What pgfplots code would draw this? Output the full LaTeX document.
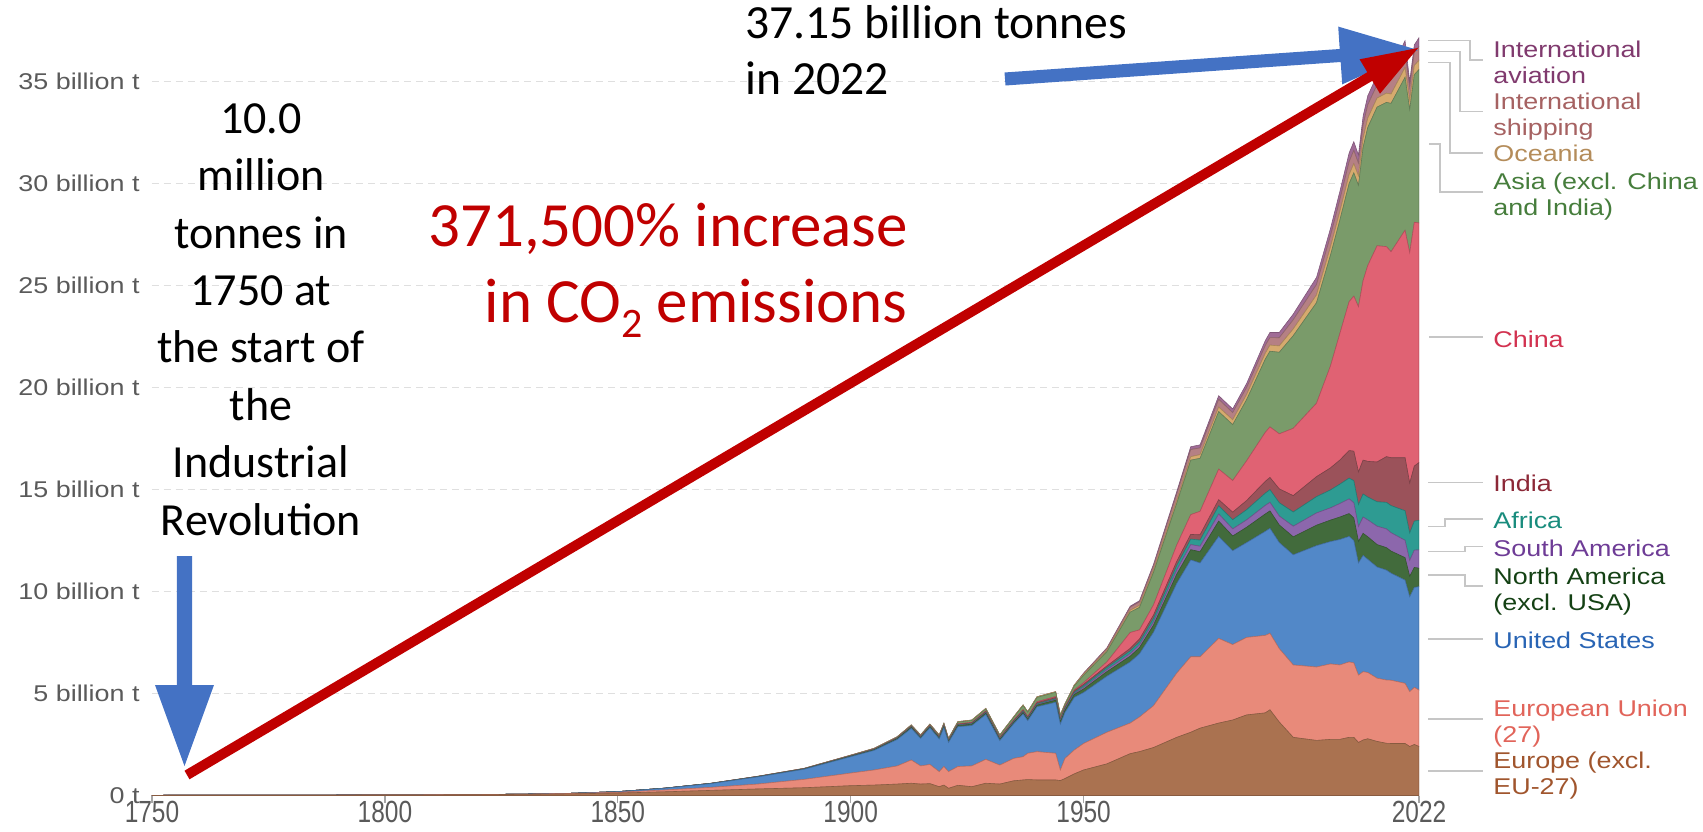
\documentclass[border=0pt]{standalone}
\usepackage{pgfplots}
\pgfplotsset{compat=1.18}
\usepackage{pgfplotstable}
\usepackage{fontspec}
\setmainfont{Carlito}
\newfontfamily\labfont[FakeStretch=1.18]{Liberation Sans}
\newfontfamily\xlabfont[FakeStretch=0.8]{Liberation Sans}

\definecolor{ceur}{RGB}{170,114,80}
\definecolor{ceu}{RGB}{232,138,122}
\definecolor{cus}{RGB}{82,136,200}
\definecolor{cnam}{RGB}{66,107,60}
\definecolor{csam}{RGB}{140,103,172}
\definecolor{cafr}{RGB}{46,155,146}
\definecolor{cind}{RGB}{155,82,90}
\definecolor{cchn}{RGB}{224,98,115}
\definecolor{casia}{RGB}{122,155,106}
\definecolor{coce}{RGB}{214,170,110}
\definecolor{cship}{RGB}{181,128,132}
\definecolor{cavi}{RGB}{160,108,150}
% label colours
\definecolor{teur}{RGB}{160,85,45}
\definecolor{teu}{RGB}{225,100,90}
\definecolor{tus}{RGB}{40,100,180}
\definecolor{tnam}{RGB}{20,65,20}
\definecolor{tsam}{RGB}{110,60,150}
\definecolor{tafr}{RGB}{25,140,125}
\definecolor{tind}{RGB}{140,40,55}
\definecolor{tchn}{RGB}{210,50,80}
\definecolor{tasia}{RGB}{70,125,60}
\definecolor{toce}{RGB}{180,140,90}
\definecolor{tship}{RGB}{166,98,98}
\definecolor{tavi}{RGB}{128,58,110}
\definecolor{ticktext}{RGB}{90,90,90}
\definecolor{ablue}{RGB}{68,114,196}
\definecolor{ared}{RGB}{192,0,0}

% annual CO2 emissions by region, billion tonnes
\pgfplotstableread{
year eur eu us nam sam afr ind chn asia oce ship avi
1750 0.0093 0.0001 0 0 0 0 0 0 0 0 0 0
1775 0.014 0.001 0 0 0 0 0 0 0 0 0 0
1800 0.025 0.002 0.0003 0 0 0 0 0 0 0 0 0
1820 0.04 0.005 0.001 0 0 0 0 0 0 0 0 0
1830 0.055 0.01 0.003 0 0 0 0 0 0 0 0 0
1840 0.08 0.02 0.007 0.001 0 0 0 0 0 0 0 0
1850 0.12 0.04 0.027 0.002 0 0 0 0 0.001 0 0 0
1860 0.18 0.09 0.082 0.004 0 0 0.001 0 0.002 0.001 0 0
1870 0.25 0.15 0.183 0.006 0.001 0.001 0.002 0.001 0.004 0.002 0 0
1880 0.32 0.24 0.348 0.01 0.002 0.002 0.005 0.002 0.007 0.004 0 0
1890 0.38 0.41 0.495 0.015 0.003 0.003 0.007 0.003 0.008 0.006 0 0
1900 0.48 0.62 0.80 0.025 0.005 0.006 0.012 0.005 0.015 0.009 0 0
1905 0.51 0.74 0.96 0.03 0.007 0.008 0.015 0.007 0.022 0.011 0 0
1910 0.56 0.89 1.30 0.04 0.01 0.01 0.02 0.01 0.03 0.013 0 0
1913 0.60 1.14 1.55 0.05 0.012 0.012 0.025 0.014 0.04 0.017 0 0
1915 0.56 0.89 1.35 0.045 0.012 0.013 0.025 0.015 0.043 0.017 0 0
1917 0.58 0.94 1.80 0.048 0.012 0.013 0.027 0.016 0.047 0.017 0 0
1919 0.43 0.74 1.60 0.05 0.012 0.014 0.03 0.017 0.058 0.019 0 0
1920 0.51 0.91 1.90 0.055 0.014 0.015 0.032 0.018 0.066 0.02 0 0
1921 0.35 0.82 1.43 0.045 0.014 0.014 0.03 0.018 0.06 0.019 0 0
1923 0.50 0.92 1.95 0.06 0.016 0.016 0.032 0.02 0.084 0.022 0 0
1926 0.43 1.02 1.98 0.065 0.018 0.018 0.035 0.022 0.09 0.022 0 0
1929 0.60 1.17 2.20 0.07 0.02 0.02 0.04 0.025 0.1 0.025 0 0
1932 0.56 0.93 1.20 0.055 0.018 0.02 0.04 0.027 0.1 0.02 0 0
1935 0.72 1.10 1.70 0.06 0.022 0.025 0.045 0.03 0.135 0.023 0 0
1937 0.76 1.14 2.10 0.07 0.025 0.03 0.05 0.035 0.2 0.03 0 0
1938 0.78 1.29 1.60 0.065 0.025 0.03 0.05 0.045 0.195 0.03 0 0
1940 0.76 1.39 2.20 0.08 0.028 0.035 0.055 0.05 0.21 0.032 0 0
1944 0.76 1.31 2.50 0.1 0.03 0.04 0.06 0.05 0.21 0.03 0 0
1945 0.73 0.52 2.25 0.1 0.03 0.04 0.06 0.04 0.15 0.03 0 0
1946 0.83 0.99 2.25 0.11 0.035 0.045 0.06 0.03 0.12 0.03 0 0
1948 1.06 1.17 2.58 0.14 0.05 0.06 0.065 0.05 0.2 0.04 0 0
1950 1.25 1.30 2.50 0.17 0.08 0.08 0.07 0.08 0.36 0.05 0.05 0.01
1955 1.55 1.55 2.75 0.22 0.10 0.10 0.08 0.20 0.50 0.06 0.10 0.03
1960 2.05 1.50 3.00 0.28 0.13 0.13 0.12 0.78 1.00 0.09 0.15 0.05
1962 2.15 1.70 3.10 0.30 0.14 0.14 0.14 0.45 1.10 0.10 0.17 0.06
1965 2.35 2.05 3.60 0.35 0.16 0.17 0.16 0.50 1.60 0.11 0.20 0.08
1970 2.85 3.15 4.40 0.45 0.21 0.22 0.20 0.80 2.05 0.15 0.30 0.12
1973 3.10 3.70 4.75 0.50 0.25 0.27 0.23 0.97 2.67 0.17 0.35 0.14
1975 3.30 3.50 4.60 0.55 0.27 0.30 0.26 1.15 2.60 0.18 0.33 0.15
1979 3.55 4.15 5.00 0.75 0.35 0.40 0.30 1.50 2.82 0.22 0.38 0.18
1982 3.70 3.70 4.60 0.72 0.35 0.45 0.37 1.55 2.74 0.24 0.35 0.18
1985 3.95 3.80 4.65 0.75 0.36 0.50 0.45 1.95 3.00 0.25 0.34 0.20
1989 4.05 3.80 5.10 0.85 0.42 0.60 0.58 2.40 3.59 0.29 0.38 0.24
1990 4.20 3.75 5.15 0.85 0.42 0.62 0.60 2.48 3.71 0.30 0.37 0.25
1992 3.60 3.60 5.20 0.86 0.44 0.65 0.68 2.70 4.00 0.31 0.40 0.26
1995 2.85 3.55 5.40 0.88 0.52 0.70 0.80 3.30 4.54 0.33 0.45 0.28
2000 2.70 3.60 5.95 1.00 0.60 0.80 0.98 3.60 4.93 0.38 0.51 0.35
2003 2.75 3.70 6.00 1.05 0.60 0.88 1.08 5.00 5.43 0.40 0.55 0.36
2005 2.75 3.65 6.15 1.10 0.66 0.95 1.18 6.20 5.56 0.42 0.58 0.40
2007 2.85 3.70 6.15 1.12 0.72 1.02 1.35 7.30 5.79 0.44 0.63 0.43
2008 2.85 3.65 6.00 1.10 0.75 1.08 1.45 7.60 6.04 0.45 0.65 0.43
2009 2.60 3.30 5.50 1.05 0.73 1.08 1.60 8.10 5.95 0.46 0.62 0.41
2010 2.72 3.35 5.70 1.08 0.80 1.13 1.66 8.80 6.53 0.45 0.65 0.43
2011 2.78 3.25 5.55 1.10 0.83 1.12 1.75 9.60 6.77 0.45 0.66 0.44
2013 2.65 3.10 5.45 1.10 0.90 1.20 1.95 10.6 6.80 0.44 0.65 0.46
2015 2.56 3.10 5.39 1.10 0.92 1.30 2.24 10.3 7.07 0.45 0.67 0.50
2016 2.55 3.10 5.25 1.08 0.90 1.33 2.35 10.1 7.27 0.46 0.68 0.53
2019 2.55 2.95 5.06 1.10 0.85 1.45 2.60 11.15 7.50 0.47 0.72 0.60
2020 2.40 2.69 4.65 1.00 0.78 1.35 2.44 11.3 7.02 0.45 0.62 0.30
2021 2.50 2.80 4.90 0.98 0.85 1.42 2.70 11.95 7.24 0.45 0.66 0.35
2022 2.40 2.77 5.07 0.90 0.90 1.45 2.83 11.75 7.52 0.45 0.68 0.43
}\emissions

\newcommand\legfont{\labfont\fontsize{11.4pt}{13pt}\selectfont}
\newcommand\notefont{\fontsize{23pt}{28.5pt}\selectfont}
\newcommand\topnote{\fontsize{23.8pt}{28.5pt}\selectfont}
\newcommand\bignote{\fontsize{31.5pt}{38pt}\selectfont}
\newcommand\leg[3]{\node[anchor=base west,inner sep=0pt,text=#1,font=\legfont] at (1493,#2) {#3};}

\begin{document}
\begin{tikzpicture}
% page frame in pixel units of the reference (1703 x 831)
\begin{scope}[shift={(-76pt,397.75pt)},x=0.5pt,y=-0.5pt]
  \useasboundingbox (0,0) rectangle (1703,831);
\end{scope}

\begin{axis}[
    at={(0,0)}, anchor=south west,
    scale only axis, width=633.5pt, height=397.75pt,
    xmin=1750, xmax=2022, ymin=0, ymax=39,
    stack plots=y,
    axis line style={draw=none},
    xtick pos=bottom, ytick pos=left,
    tick align=outside, major tick length=3.5pt,
    xtick={1750,1800,1850,1900,1950,2022},
    xticklabels={1750,1800,1850,1900,1950,2022},
    ytick={0,5,...,35},
    yticklabels={0 t,5 billion t,10 billion t,15 billion t,20 billion t,25 billion t,30 billion t,35 billion t},
    xtick style={draw=gray!70, line width=0.6pt},
    ytick style={draw=none},
    xticklabel style={font=\xlabfont\fontsize{15.3pt}{16pt}\selectfont, text=ticktext, inner sep=0pt, yshift=1pt},
    yticklabel style={font=\labfont\fontsize{11.4pt}{12pt}\selectfont, text=ticktext, inner sep=0pt, xshift=-2.5pt},
    ymajorgrids,
    grid style={gray!25, line width=0.5pt, dash pattern=on 3.5pt off 2.5pt},
    every axis plot/.append style={line width=0.3pt},
  ]
  \addplot[fill=ceur, draw=ceur!80!black] table[x=year,y=eur]{\emissions} \closedcycle;
  \addplot[fill=ceu, draw=ceu!80!black] table[x=year,y=eu]{\emissions} \closedcycle;
  \addplot[fill=cus, draw=cus!80!black] table[x=year,y=us]{\emissions} \closedcycle;
  \addplot[fill=cnam, draw=cnam!80!black] table[x=year,y=nam]{\emissions} \closedcycle;
  \addplot[fill=csam, draw=csam!80!black] table[x=year,y=sam]{\emissions} \closedcycle;
  \addplot[fill=cafr, draw=cafr!80!black] table[x=year,y=afr]{\emissions} \closedcycle;
  \addplot[fill=cind, draw=cind!80!black] table[x=year,y=ind]{\emissions} \closedcycle;
  \addplot[fill=cchn, draw=cchn!80!black] table[x=year,y=chn]{\emissions} \closedcycle;
  \addplot[fill=casia, draw=casia!80!black] table[x=year,y=asia]{\emissions} \closedcycle;
  \addplot[fill=coce, draw=coce!80!black] table[x=year,y=oce]{\emissions} \closedcycle;
  \addplot[fill=cship, draw=cship!80!black] table[x=year,y=ship]{\emissions} \closedcycle;
  \addplot[fill=cavi, draw=cavi!80!black] table[x=year,y=avi]{\emissions} \closedcycle;
  \draw[gray!70, line width=0.7pt] (axis cs:1750,0) -- (axis cs:2022,0);
\end{axis}

\begin{scope}[shift={(-76pt,397.75pt)},x=0.5pt,y=-0.5pt]
  % connectors to the region labels
  \begin{scope}[gray!45, line width=0.6pt]
    \draw (1428,40.7) -| (1470,60) -- (1483,60);
    \draw (1428,51.7) -| (1460,111.7) -- (1483,111.7);
    \draw (1428,62.3) -| (1450,153) -- (1483,153);
    \draw (1429,144) -| (1440,192) -- (1483,192);
    \draw (1429,337) -- (1483,337);
    \draw (1428,482.7) -- (1483,482.7);
    \draw (1428,526.7) -| (1445,519) -- (1483,519);
    \draw (1428,551.7) -| (1465,546.7) -- (1483,546.7);
    \draw (1428,575) -| (1465,586) -- (1483,586);
    \draw (1428,639) -- (1483,639);
    \draw (1428,719) -- (1483,719);
    \draw (1428,771) -- (1483,771);
  \end{scope}
  \leg{tavi}{57.3}{International}
  \leg{tavi}{83.3}{aviation}
  \leg{tship}{110}{International}
  \leg{tship}{136}{shipping}
  \leg{toce}{162}{Oceania}
  \leg{tasia}{190}{Asia (excl. China}
  \leg{tasia}{216}{and India)}
  \leg{tchn}{348}{China}
  \leg{tind}{492}{India}
  \leg{tafr}{528.5}{Africa}
  \leg{tsam}{556}{South America}
  \leg{tnam}{584}{North America}
  \leg{tnam}{610}{(excl. USA)}
  \leg{tus}{648}{United States}
  \leg{teu}{716}{European Union}
  \leg{teu}{742}{(27)}
  \leg{teur}{768}{Europe (excl.}
  \leg{teur}{794}{EU-27)}

  % arrows
  \fill[ablue] (177,556) -- (192,556) -- (192,685) -- (214,685) -- (184.5,766) -- (155,685) -- (177,685) -- cycle;
  \fill[ablue] (1004.5,72.5) -- (1339.7,49) -- (1338.2,26.6) -- (1418,50) -- (1342.2,84.4) -- (1340.7,62) -- (1005.5,85.5) -- cycle;
  \fill[ared] (184.5,770.7) -- (1367.3,72.2) -- (1359.6,59.3) -- (1418,48) -- (1380,93.7) -- (1372.3,80.8) -- (189.5,779.3) -- cycle;

  % notes
  \begin{scope}[every node/.style={inner sep=0pt, font=\notefont}]
    \node[anchor=base] at (261,133.3) {10.0};
    \node[anchor=base] at (261,190.7) {million};
    \node[anchor=base] at (261,248.1) {tonnes in};
    \node[anchor=base] at (261,305.5) {1750 at};
    \node[anchor=base] at (261,362.9) {the start of};
    \node[anchor=base] at (261,420.3) {the};
    \node[anchor=base] at (261,477.7) {Industrial};
    \node[anchor=base] at (261,535.1) {Revolution};
    \node[anchor=base west, font=\topnote] at (745,38.3) {37.15 billion tonnes};
    \node[anchor=base west, font=\topnote] at (745,95) {in 2022};
  \end{scope}
  \node[anchor=base east, inner sep=0pt, text=ared, font=\bignote] at (908,246.7) {371,500\% increase};
  \node[anchor=base east, inner sep=0pt, text=ared, font=\bignote] at (908,323) {in CO\raisebox{-7.5pt}{\fontsize{21pt}{21pt}\selectfont 2} emissions};
\end{scope}
\end{tikzpicture}
\end{document}
